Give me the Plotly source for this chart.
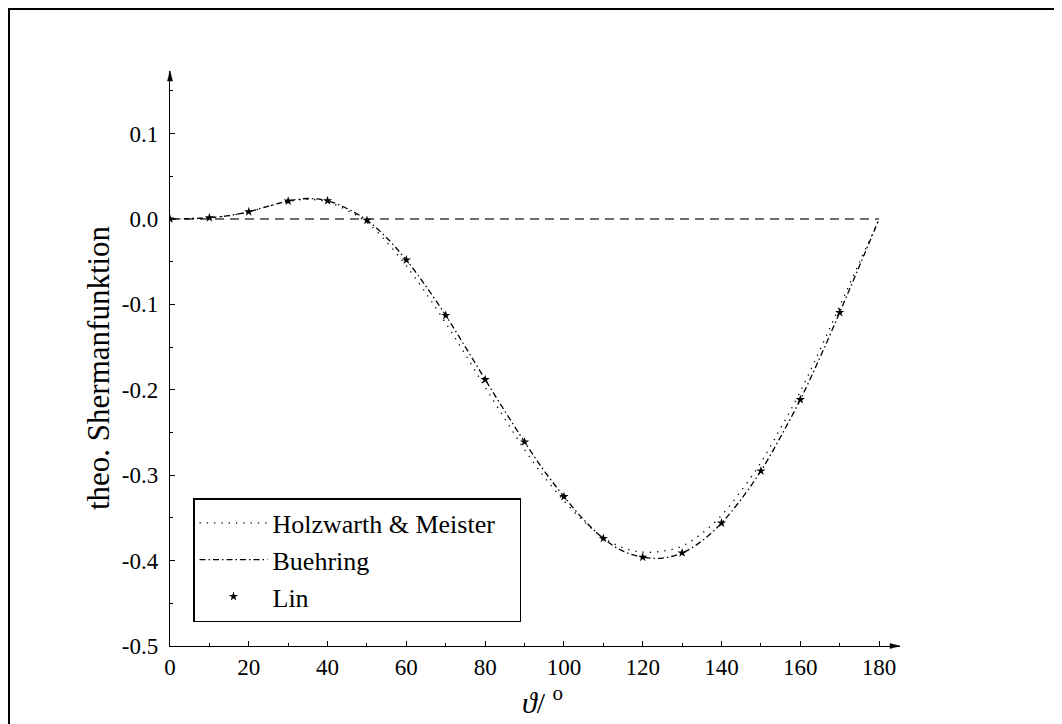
import plotly.graph_objects as go

# ---- data ----
theta = [0, 5, 10, 15, 20, 25, 30, 35, 40, 45, 50, 55, 60, 65, 70, 75, 80, 85, 90,
         95, 100, 105, 110, 115, 120, 125, 130, 135, 140, 145, 150, 155, 160, 165,
         170, 175, 180]
holzwarth = [0.0, 0.0005, 0.0015, 0.004, 0.0085, 0.015, 0.0205, 0.023, 0.020, 0.010,
             -0.004, -0.027, -0.055, -0.087, -0.122, -0.159, -0.197, -0.234, -0.270,
             -0.302, -0.330, -0.354, -0.373, -0.385, -0.390, -0.389, -0.383, -0.368,
             -0.347, -0.318, -0.285, -0.245, -0.202, -0.153, -0.102, -0.051, 0.0]
buehring = [0.0, 0.0005, 0.0015, 0.004, 0.0085, 0.015, 0.021, 0.024, 0.0214, 0.012,
            -0.0015, -0.022, -0.048, -0.079, -0.113, -0.150, -0.188, -0.225, -0.261,
            -0.295, -0.325, -0.352, -0.374, -0.389, -0.396, -0.397, -0.391, -0.377,
            -0.356, -0.328, -0.295, -0.255, -0.2115, -0.162, -0.1094, -0.055, 0.0]
lin_theta = [0, 10, 20, 30, 40, 50, 60, 70, 80, 90, 100, 110, 120, 130, 140, 150, 160, 170]
lin = [0.0, 0.0015, 0.0085, 0.021, 0.0214, -0.0015, -0.048, -0.113, -0.188, -0.261,
       -0.325, -0.374, -0.396, -0.391, -0.356, -0.295, -0.2115, -0.1094]
zero_theta = [0, 180]
zero_vals = [0.0, 0.0]

x_tickvals = [0, 20, 40, 60, 80, 100, 120, 140, 160, 180]
x_ticktext = ["0", "20", "40", "60", "80", "100", "120", "140", "160", "180"]
y_tickvals = [-0.5, -0.4, -0.3, -0.2, -0.1, 0.0, 0.1]
y_ticktext = ["-0.5", "-0.4", "-0.3", "-0.2", "-0.1", "0.0", "0.1"]

# ---- layout geometry (figure pixels; page body adds an 8px offset) ----
W, H = 1062, 724
L, R, T, B = 162, 892, 63, 638
PW, PH = R - L, B - T


def px(xp):
    return (xp - L) / PW


def py(yp):
    return (B - yp) / PH


FONT = "Liberation Serif, DejaVu Serif, serif"
PAD = "\u00a0\u00a0\u00a0"

fig = go.Figure()
fig.add_trace(go.Scatter(x=zero_theta, y=zero_vals, mode="lines",
                         line=dict(color="#6e6e6e", width=2, dash="9px,6px"),
                         showlegend=False, hoverinfo="skip"))
fig.add_trace(go.Scatter(x=theta, y=holzwarth, mode="lines",
                         name="Holzwarth & Meister" + PAD,
                         line=dict(color="black", width=1.3, dash="1.3px,6px", shape="spline")))
fig.add_trace(go.Scatter(x=theta, y=buehring, mode="lines", name="Buehring",
                         line=dict(color="black", width=1.3, dash="6px,3px,1.5px,3px",
                                   shape="spline")))
fig.add_trace(go.Scatter(x=lin_theta, y=lin, mode="markers", name="Lin",
                         marker=dict(symbol="star", size=7, color="black",
                                     line=dict(width=0))))

fig.update_layout(
    width=W, height=H,
    margin=dict(l=L, r=W - R, t=T, b=H - B, pad=0),
    paper_bgcolor="white", plot_bgcolor="white",
    font=dict(family=FONT, color="black", size=23),
    showlegend=True,
    legend=dict(x=px(185), y=py(490), xanchor="left", yanchor="top",
                bordercolor="black", borderwidth=1.5, bgcolor="white",
                font=dict(family=FONT, size=26, color="black"),
                itemwidth=68, tracegroupgap=0),
    xaxis=dict(range=[0, 185.3], showgrid=False, zeroline=False,
               showline=True, linecolor="black", linewidth=1.3,
               tickmode="array", tickvals=x_tickvals, ticktext=x_ticktext,
               ticks="inside", ticklen=5, tickwidth=1.2, tickcolor="black",
               ticklabelstandoff=0,
               tickfont=dict(family=FONT, size=23, color="black"),
               minor=dict(dtick=10, tick0=0, ticks="inside", ticklen=3,
                          tickwidth=1, tickcolor="black")),
    yaxis=dict(range=[-0.5, 0.1733], showgrid=False, zeroline=False,
               showline=True, linecolor="black", linewidth=1.3,
               tickmode="array", tickvals=y_tickvals, ticktext=y_ticktext,
               ticks="inside", ticklen=5, tickwidth=1.2, tickcolor="black",
               ticklabelstandoff=6,
               tickfont=dict(family=FONT, size=23, color="black"),
               minor=dict(dtick=0.05, tick0=0, ticks="inside", ticklen=3,
                          tickwidth=1, tickcolor="black")),
)

# axis arrowheads
fig.add_shape(type="path", xref="paper", yref="paper",
              path=f"M {px(R)} {py(B)} L {px(R - 10)} {py(B - 2.5)} L {px(R - 10)} {py(B + 2.5)} Z",
              fillcolor="black", line=dict(color="black", width=0.5))
fig.add_shape(type="path", xref="paper", yref="paper",
              path=f"M {px(L)} {py(T)} L {px(L - 2.5)} {py(T + 10)} L {px(L + 2.5)} {py(T + 10)} Z",
              fillcolor="black", line=dict(color="black", width=0.5))

# outer frame at the figure border
fig.add_shape(type="rect", xref="paper", yref="paper",
              x0=px(0.5), y0=py(H - 0.5), x1=px(W - 0.5), y1=py(0.5),
              line=dict(color="black", width=3), fillcolor="rgba(0,0,0,0)")

# axis titles
fig.add_annotation(text="<i>ϑ</i>/ <sup>o</sup>", xref="paper", yref="paper",
                   x=px(534), y=py(692), xanchor="center", yanchor="middle",
                   showarrow=False, font=dict(family=FONT, size=30, color="black"))
fig.add_annotation(text="theo. Shermanfunktion", xref="paper", yref="paper",
                   x=px(90), y=py(360), xanchor="center", yanchor="middle",
                   textangle=-90, showarrow=False,
                   font=dict(family=FONT, size=31, color="black"))

fig.write_html("out.html")
